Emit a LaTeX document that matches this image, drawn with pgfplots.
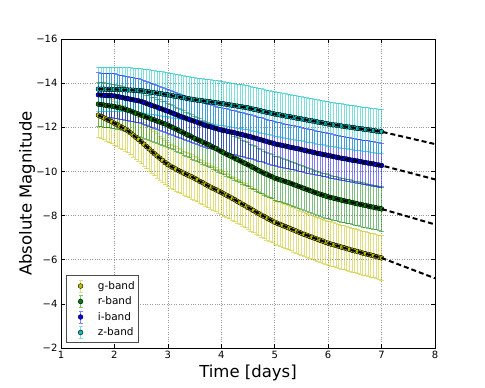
\documentclass[border=0pt]{standalone}
\usepackage{fontspec}
\setmainfont{DejaVu Sans}
\usepackage{pgfplots}
\usepackage{pgfplotstable}
\pgfplotsset{compat=1.18}
\definecolor{gcol}{rgb}{0.75,0.75,0}
\definecolor{rcol}{rgb}{0,0.5,0}
\definecolor{icol}{rgb}{0,0,1}
\definecolor{zcol}{rgb}{0,0.75,0.75}

\pgfplotstableread{
t m
1.70 -12.55
1.75 -12.49
1.80 -12.43
1.85 -12.37
1.90 -12.31
1.95 -12.25
2.00 -12.18
2.05 -12.12
2.10 -12.05
2.15 -11.98
2.20 -11.92
2.25 -11.84
2.30 -11.75
2.35 -11.65
2.40 -11.55
2.45 -11.45
2.50 -11.35
2.55 -11.24
2.60 -11.13
2.65 -11.02
2.70 -10.91
2.75 -10.80
2.80 -10.70
2.85 -10.60
2.90 -10.50
2.95 -10.40
3.00 -10.31
3.05 -10.24
3.10 -10.17
3.15 -10.11
3.20 -10.04
3.25 -9.98
3.30 -9.92
3.35 -9.86
3.40 -9.80
3.45 -9.75
3.50 -9.69
3.55 -9.62
3.60 -9.55
3.65 -9.49
3.70 -9.42
3.75 -9.35
3.80 -9.29
3.85 -9.23
3.90 -9.17
3.95 -9.11
4.00 -9.05
4.05 -8.98
4.10 -8.92
4.15 -8.85
4.20 -8.79
4.25 -8.72
4.30 -8.65
4.35 -8.58
4.40 -8.51
4.45 -8.44
4.50 -8.37
4.55 -8.30
4.60 -8.23
4.65 -8.16
4.70 -8.09
4.75 -8.02
4.80 -7.96
4.85 -7.89
4.90 -7.83
4.95 -7.76
5.00 -7.70
5.05 -7.65
5.10 -7.60
5.15 -7.55
5.20 -7.50
5.25 -7.45
5.30 -7.40
5.35 -7.35
5.40 -7.30
5.45 -7.25
5.50 -7.20
5.55 -7.15
5.60 -7.11
5.65 -7.06
5.70 -7.02
5.75 -6.97
5.80 -6.93
5.85 -6.88
5.90 -6.84
5.95 -6.79
6.00 -6.75
6.05 -6.71
6.10 -6.68
6.15 -6.64
6.20 -6.61
6.25 -6.57
6.30 -6.54
6.35 -6.50
6.40 -6.47
6.45 -6.43
6.50 -6.40
6.55 -6.37
6.60 -6.34
6.65 -6.30
6.70 -6.27
6.75 -6.24
6.80 -6.21
6.85 -6.18
6.90 -6.14
6.95 -6.11
7.00 -6.08
8.00 -5.16
}\gdata

\pgfplotstableread{
t m
1.70 -13.05
1.75 -13.03
1.80 -13.01
1.85 -12.99
1.90 -12.97
1.95 -12.96
2.00 -12.94
2.05 -12.91
2.10 -12.88
2.15 -12.85
2.20 -12.82
2.25 -12.78
2.30 -12.74
2.35 -12.69
2.40 -12.64
2.45 -12.60
2.50 -12.55
2.55 -12.51
2.60 -12.46
2.65 -12.42
2.70 -12.37
2.75 -12.33
2.80 -12.28
2.85 -12.24
2.90 -12.19
2.95 -12.15
3.00 -12.10
3.05 -12.04
3.10 -11.98
3.15 -11.92
3.20 -11.86
3.25 -11.80
3.30 -11.74
3.35 -11.68
3.40 -11.62
3.45 -11.56
3.50 -11.50
3.55 -11.44
3.60 -11.39
3.65 -11.33
3.70 -11.28
3.75 -11.22
3.80 -11.16
3.85 -11.10
3.90 -11.04
3.95 -10.97
4.00 -10.90
4.05 -10.84
4.10 -10.78
4.15 -10.72
4.20 -10.66
4.25 -10.60
4.30 -10.54
4.35 -10.48
4.40 -10.42
4.45 -10.36
4.50 -10.30
4.55 -10.24
4.60 -10.17
4.65 -10.11
4.70 -10.04
4.75 -9.98
4.80 -9.92
4.85 -9.87
4.90 -9.81
4.95 -9.76
5.00 -9.70
5.05 -9.66
5.10 -9.62
5.15 -9.58
5.20 -9.54
5.25 -9.50
5.30 -9.46
5.35 -9.41
5.40 -9.37
5.45 -9.32
5.50 -9.28
5.55 -9.23
5.60 -9.19
5.65 -9.14
5.70 -9.10
5.75 -9.05
5.80 -9.01
5.85 -8.97
5.90 -8.93
5.95 -8.89
6.00 -8.85
6.05 -8.82
6.10 -8.79
6.15 -8.76
6.20 -8.73
6.25 -8.70
6.30 -8.67
6.35 -8.64
6.40 -8.62
6.45 -8.59
6.50 -8.56
6.55 -8.53
6.60 -8.51
6.65 -8.48
6.70 -8.46
6.75 -8.43
6.80 -8.40
6.85 -8.38
6.90 -8.35
6.95 -8.33
7.00 -8.30
8.00 -7.60
}\rdata

\pgfplotstableread{
t m
1.70 -13.47
1.75 -13.46
1.80 -13.45
1.85 -13.44
1.90 -13.44
1.95 -13.43
2.00 -13.42
2.05 -13.40
2.10 -13.37
2.15 -13.35
2.20 -13.32
2.25 -13.30
2.30 -13.27
2.35 -13.25
2.40 -13.22
2.45 -13.20
2.50 -13.17
2.55 -13.13
2.60 -13.08
2.65 -13.04
2.70 -12.99
2.75 -12.95
2.80 -12.91
2.85 -12.86
2.90 -12.82
2.95 -12.77
3.00 -12.73
3.05 -12.68
3.10 -12.63
3.15 -12.58
3.20 -12.53
3.25 -12.48
3.30 -12.44
3.35 -12.40
3.40 -12.35
3.45 -12.31
3.50 -12.27
3.55 -12.23
3.60 -12.18
3.65 -12.14
3.70 -12.09
3.75 -12.05
3.80 -12.02
3.85 -11.98
3.90 -11.95
3.95 -11.91
4.00 -11.88
4.05 -11.85
4.10 -11.83
4.15 -11.80
4.20 -11.78
4.25 -11.75
4.30 -11.72
4.35 -11.69
4.40 -11.66
4.45 -11.63
4.50 -11.60
4.55 -11.57
4.60 -11.53
4.65 -11.50
4.70 -11.46
4.75 -11.43
4.80 -11.39
4.85 -11.36
4.90 -11.32
4.95 -11.29
5.00 -11.25
5.05 -11.22
5.10 -11.20
5.15 -11.17
5.20 -11.15
5.25 -11.12
5.30 -11.09
5.35 -11.07
5.40 -11.04
5.45 -11.02
5.50 -10.99
5.55 -10.96
5.60 -10.93
5.65 -10.91
5.70 -10.88
5.75 -10.85
5.80 -10.82
5.85 -10.80
5.90 -10.77
5.95 -10.75
6.00 -10.72
6.05 -10.70
6.10 -10.67
6.15 -10.65
6.20 -10.62
6.25 -10.60
6.30 -10.58
6.35 -10.56
6.40 -10.53
6.45 -10.51
6.50 -10.49
6.55 -10.47
6.60 -10.45
6.65 -10.42
6.70 -10.40
6.75 -10.38
6.80 -10.36
6.85 -10.34
6.90 -10.31
6.95 -10.29
7.00 -10.27
8.00 -9.64
}\idata

\pgfplotstableread{
t m
1.70 -13.73
1.75 -13.73
1.80 -13.73
1.85 -13.72
1.90 -13.72
1.95 -13.72
2.00 -13.72
2.05 -13.71
2.10 -13.71
2.15 -13.70
2.20 -13.70
2.25 -13.69
2.30 -13.69
2.35 -13.68
2.40 -13.67
2.45 -13.67
2.50 -13.66
2.55 -13.64
2.60 -13.62
2.65 -13.60
2.70 -13.58
2.75 -13.56
2.80 -13.55
2.85 -13.53
2.90 -13.51
2.95 -13.49
3.00 -13.47
3.05 -13.45
3.10 -13.42
3.15 -13.40
3.20 -13.38
3.25 -13.36
3.30 -13.34
3.35 -13.31
3.40 -13.29
3.45 -13.27
3.50 -13.25
3.55 -13.23
3.60 -13.22
3.65 -13.20
3.70 -13.18
3.75 -13.17
3.80 -13.15
3.85 -13.13
3.90 -13.11
3.95 -13.10
4.00 -13.08
4.05 -13.06
4.10 -13.04
4.15 -13.02
4.20 -13.00
4.25 -12.98
4.30 -12.96
4.35 -12.94
4.40 -12.92
4.45 -12.90
4.50 -12.88
4.55 -12.85
4.60 -12.82
4.65 -12.80
4.70 -12.77
4.75 -12.74
4.80 -12.71
4.85 -12.68
4.90 -12.66
4.95 -12.63
5.00 -12.60
5.05 -12.58
5.10 -12.56
5.15 -12.53
5.20 -12.51
5.25 -12.49
5.30 -12.47
5.35 -12.45
5.40 -12.42
5.45 -12.40
5.50 -12.38
5.55 -12.36
5.60 -12.33
5.65 -12.31
5.70 -12.29
5.75 -12.27
5.80 -12.24
5.85 -12.22
5.90 -12.20
5.95 -12.17
6.00 -12.15
6.05 -12.13
6.10 -12.11
6.15 -12.10
6.20 -12.08
6.25 -12.06
6.30 -12.04
6.35 -12.02
6.40 -12.01
6.45 -11.99
6.50 -11.97
6.55 -11.95
6.60 -11.94
6.65 -11.92
6.70 -11.90
6.75 -11.89
6.80 -11.87
6.85 -11.85
6.90 -11.83
6.95 -11.82
7.00 -11.80
8.00 -11.24
}\zdata

\pgfplotsset{
  bandbars/.style={forget plot, only marks, mark=none,
    restrict x to domain=1:7.01,
    error bars/.cd, y dir=both, y fixed=1,
    error bar style={line width=0.95pt, color=#1, opacity=0.5},
    error mark options={rotate=90, mark size=2.2pt, line width=0.95pt, color=#1, opacity=0.5}},
  bandmarks/.style={forget plot, only marks, mark=*, mark size=2.4pt,
    restrict x to domain=1:7.01,
    mark options={fill=#1, draw=black, line width=0.4pt}},
  banddash/.style={forget plot, black, line width=2pt, dash pattern=on 5pt off 3pt},
}
\newcommand{\legimg}[1]{\addlegendimage{legend image code/.code={
  \path (0pt,0pt) (27pt,0pt);
  \draw[#1, opacity=0.5, line width=0.95pt] (12pt,-6pt)--(12pt,6pt) (10pt,-6pt)--(14pt,-6pt) (10pt,6pt)--(14pt,6pt);
  \draw[fill=#1, draw=black, line width=0.4pt] (12pt,0pt) circle (2.4pt);}}}

\begin{document}
\begin{tikzpicture}
\begin{axis}[
  scale only axis, width=374pt, height=309pt,
  clip mode=individual,
  xmin=1, xmax=8, ymin=-16, ymax=-2, y dir=reverse,
  xtick={1,2,...,8},
  ytick={-16,-14,-12,-10,-8,-6,-4,-2},
  yticklabels={−16,−14,−12,−10,−8,−6,−4,−2},
  tick align=inside, major tick length=4pt, minor tick num=0,
  grid=major, grid style={dotted, gray!80, line width=0.6pt},
  axis line style={line width=0.8pt},
  tick style={black, line width=0.6pt},
  ticklabel style={font=\fontsize{10}{12}\selectfont},
  /pgf/number format/assume math mode=true,
  xlabel={Time [days]}, ylabel={Absolute Magnitude},
  every axis x label/.style={at={([yshift=-29.8pt]axis description cs:0.5,0)}, anchor=base, font=\fontsize{16.5}{19}\selectfont},
  every axis y label/.style={at={([xshift=-34pt]axis description cs:0,0.5)}, rotate=90, anchor=center, font=\fontsize{16.5}{19}\selectfont},
  legend style={at={([xshift=5pt,yshift=5pt]axis description cs:0,0)}, anchor=south west,
    font=\fontsize{10.5}{12}\selectfont, draw=black!70, line width=0.6pt,
    inner xsep=2pt, inner ysep=3.5pt, row sep=2pt, cells={anchor=west}},
]
\addplot[bandbars=gcol] table {\gdata};
\addplot[bandbars=rcol] table {\rdata};
\addplot[bandbars=icol] table {\idata};
\addplot[bandbars=zcol] table {\zdata};
\addplot[bandmarks=gcol] table {\gdata};
\addplot[bandmarks=rcol] table {\rdata};
\addplot[bandmarks=icol] table {\idata};
\addplot[bandmarks=zcol] table {\zdata};
\addplot[banddash] table {\gdata};
\addplot[banddash] table {\rdata};
\addplot[banddash] table {\idata};
\addplot[banddash] table {\zdata};
\legimg{gcol}\addlegendentry{g-band}
\legimg{rcol}\addlegendentry{r-band}
\legimg{icol}\addlegendentry{i-band}
\legimg{zcol}\addlegendentry{z-band}
\end{axis}
\pgfresetboundingbox
\useasboundingbox (-61pt,-40pt) rectangle (424pt,348pt);
\end{tikzpicture}
\end{document}
